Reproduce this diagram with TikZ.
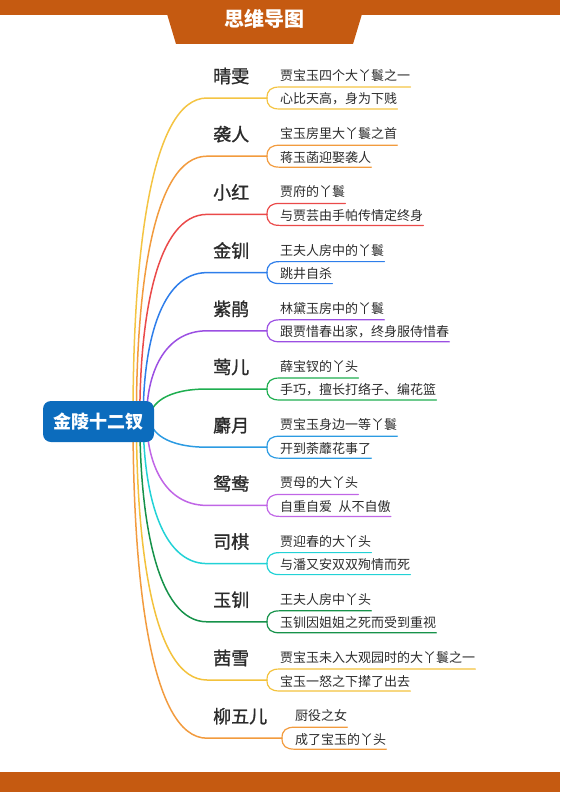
\documentclass[tikz,border=0pt]{standalone}
\usepackage{fontspec}
\setmainfont{Noto Sans CJK SC}
\newfontfamily\labfont[FakeBold=1.2]{Noto Sans CJK SC}
\definecolor{bar}{HTML}{C55A11}
\definecolor{cblue}{HTML}{0C6CBD}
\definecolor{txt}{HTML}{2B2B2B}
\definecolor{c1}{HTML}{F4C443}
\definecolor{c2}{HTML}{F29B3E}
\definecolor{c3}{HTML}{EA4A4A}
\definecolor{c4}{HTML}{2E7EEA}
\definecolor{c5}{HTML}{9B4FE2}
\definecolor{c6}{HTML}{1EAE50}
\definecolor{c7}{HTML}{2C9BE2}
\definecolor{c8}{HTML}{C066E6}
\definecolor{c9}{HTML}{22D2D6}
\definecolor{c10}{HTML}{16924A}
\definecolor{c11}{HTML}{F3C23C}
\definecolor{c12}{HTML}{F29B3E}
\tikzset{
  lab/.style={inner sep=0pt,anchor=west,text=txt,font=\fontsize{18}{20}\labfont},
  sub/.style={inner sep=0pt,anchor=west,text=txt,font=\fontsize{13}{15}\selectfont},
  curve/.style={line width=1.5pt,line cap=round},
  uline/.style={line width=1.2pt,line cap=round},
  central/.style={fill=cblue,rounded corners=8pt,minimum width=111pt,minimum height=41pt,inner sep=0pt,text=white,font=\fontsize{18}{20}\selectfont\bfseries},
  titletext/.style={inner sep=0pt,text=white,font=\fontsize{20}{22}\selectfont\bfseries}
}
\newcommand\mmbranch[7]{%
  \pgfmathsetmacro\yb{98+58.2*(#1-1)}%
  \pgfmathsetmacro\cy{(418+\yb)/2}%
  \coordinate (s#1) at (#5,418);
  \coordinate (b#1) at (207,\yb);
  \coordinate (k#1) at (#4,\yb);
  \coordinate (ua#1) at (#4+13,\yb-11);
  \coordinate (da#1) at (#4+13,\yb+11);
  \node[lab] (l#1) at (213,\yb-22) {#2};
  \node[sub] (u#1) at (#4+13,\yb-22.5) {#6};
  \node[sub] (d#1) at (#4+13,\yb+1) {#7};
  \draw[curve,#3] (s#1) .. controls (#5,\cy) and (#5+17,\yb) .. (b#1) -- (k#1);
  \draw[uline,#3] (ua#1 -| u#1.east) -- (ua#1) .. controls (#4+4,\yb-11) and (#4,\yb-8) .. (k#1)
     .. controls (#4,\yb+8) and (#4+4,\yb+11) .. (da#1) -- (da#1 -| d#1.east);
}
\begin{document}
\begin{tikzpicture}[x=1pt,y=-1pt]
\useasboundingbox (0,0) rectangle (560,792);
\fill[bar] (0,0) rectangle (560,15);
\fill[bar] (167,14) -- (362,14) -- (353,44) -- (176,44) -- cycle;
\node[titletext] (t) at (264.5,19) {思维导图};
\fill[bar] (0,772) rectangle (560,792);

\mmbranch{1}{晴雯}{c1}{267}{133}{贾宝玉四个大丫鬟之一}{心比天高，身为下贱}
\mmbranch{2}{袭人}{c2}{267}{136.4}{宝玉房里大丫鬟之首}{蒋玉菡迎娶袭人}
\mmbranch{3}{小红}{c3}{267}{139.8}{贾府的丫鬟}{与贾芸由手帕传情定终身}
\mmbranch{4}{金钏}{c4}{267}{143.2}{王夫人房中的丫鬟}{跳井自杀}
\mmbranch{5}{紫鹃}{c5}{267}{146.6}{林黛玉房中的丫鬟}{跟贾惜春出家，终身服侍惜春}
\mmbranch{6}{莺儿}{c6}{267}{150}{薛宝钗的丫头}{手巧，擅长打络子、编花篮}
\mmbranch{7}{麝月}{c7}{267}{150}{贾宝玉身边一等丫鬟}{开到荼蘼花事了}
\mmbranch{8}{鸳鸯}{c8}{267}{146.6}{贾母的大丫头}{自重自爱\hspace{0.5em}从不自傲}
\mmbranch{9}{司棋}{c9}{267}{143.2}{贾迎春的大丫头}{与潘又安双双殉情而死}
\mmbranch{10}{玉钏}{c10}{267}{139.8}{王夫人房中丫头}{玉钏因姐姐之死而受到重视}
\mmbranch{11}{茜雪}{c11}{267}{136.4}{贾宝玉未入大观园时的大丫鬟之一}{宝玉一怒之下撵了出去}
\mmbranch{12}{柳五儿}{c12}{282}{133}{厨役之女}{成了宝玉的丫头}

\node[central] (c) at (98.5,421.5) {金陵十二钗};
\end{tikzpicture}
\end{document}
